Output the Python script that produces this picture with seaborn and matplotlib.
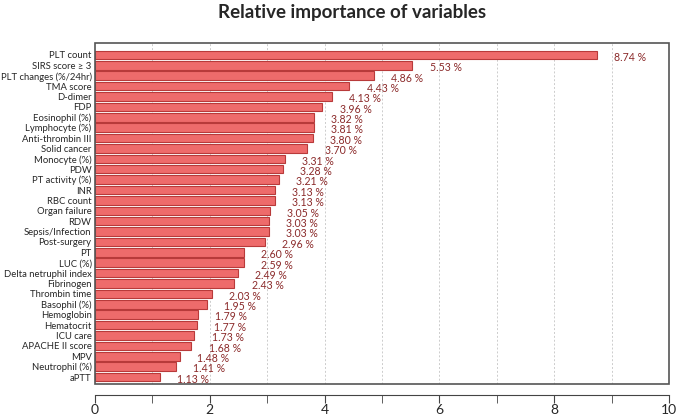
import seaborn as sns
from matplotlib import pyplot as plt
from matplotlib.patches import Rectangle
from matplotlib.ticker import MultipleLocator
import pandas as pd

variables = ['PLT count', 'SIRS score \u2265 3', 'PLT changes (%/24hr)', 'TMA score',
             'D-dimer', 'FDP', 'Eosinophil (%)', 'Lymphocyte (%)', 'Anti-thrombin III',
             'Solid cancer', 'Monocyte (%)', 'PDW', 'PT activity (%)', 'INR',
             'RBC count', 'Organ failure', 'RDW', 'Sepsis/Infection', 'Post-surgery',
             'PT', 'LUC (%)', 'Delta netruphil index', 'Fibrinogen', 'Thrombin time',
             'Basophil (%)', 'Hemoglobin', 'Hematocrit', 'ICU care', 'APACHE II score',
             'MPV', 'Neutrophil (%)', 'aPTT']
importance = [8.74, 5.53, 4.86, 4.43, 4.13, 3.96, 3.82, 3.81, 3.80, 3.70, 3.31,
              3.28, 3.21, 3.13, 3.13, 3.05, 3.03, 3.03, 2.96, 2.60, 2.59, 2.49,
              2.43, 2.03, 1.95, 1.79, 1.77, 1.73, 1.68, 1.48, 1.41, 1.13]

df = pd.DataFrame({'variable': variables, 'importance': importance})

sns.set_style('white')
plt.rcParams['font.family'] = ['Lato', 'DejaVu Sans']

fig = plt.figure(figsize=(6.76, 4.18), dpi=100)
ax = fig.add_axes([95 / 676, 1 - 384 / 418, (669 - 95) / 676, (384 - 43) / 418])

sns.barplot(data=df, x='importance', y='variable', orient='h',
            color='#ee6b6b', edgecolor='#b83a3a', linewidth=0.8,
            width=0.82, saturation=1, ax=ax)

# value labels, right of each bar
for i, v in enumerate(importance):
    ax.text(v + 0.3, i + 0.22, '%.2f %%' % v, color='#8b2a2a',
            fontsize=7.6, ha='left', va='center')

ax.set_xlim(0, 10)
ax.set_ylim(len(variables) - 0.33, -1.15)
for xv in range(1, 10):
    ax.axvline(xv, color='#cccccc', linestyle=(0, (2, 2)), linewidth=0.7, zorder=0)

# box around the plot region
ax.add_patch(Rectangle((0, 0), 1, 1, transform=ax.transAxes, fill=False,
                       edgecolor='#555555', linewidth=1.2, clip_on=False, zorder=5))
for s in ['top', 'left', 'right']:
    ax.spines[s].set_visible(False)
ax.spines['bottom'].set_position(('outward', 8))
ax.spines['bottom'].set_color('#444444')

ax.xaxis.set_major_locator(MultipleLocator(2))
ax.xaxis.set_minor_locator(MultipleLocator(1))
ax.tick_params(axis='x', which='both', direction='out', length=6,
               color='#444444', labelsize=10, bottom=True, pad=0.5)
ax.tick_params(axis='y', length=0, labelsize=6.8, pad=2.5)
ax.set_xlabel('')
ax.set_ylabel('')

fig.suptitle('Relative importance of variables', fontsize=13.5, fontweight='bold',
             x=352 / 676, y=1 - 4 / 418, va='top')

fig.savefig('out.png', dpi=100)
